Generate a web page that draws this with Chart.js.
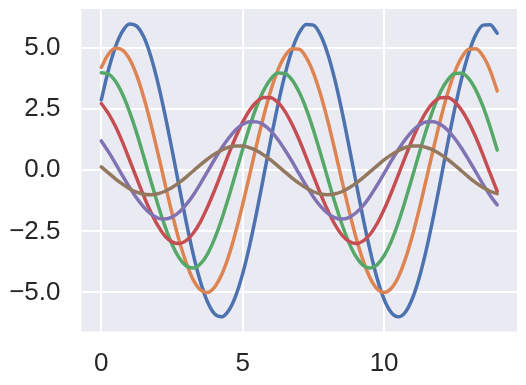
<!DOCTYPE html>
<html>
<head>
<meta charset="utf-8">
<script src="https://cdn.jsdelivr.net/npm/chart.js@4/dist/chart.umd.min.js"></script>
<style>
  body { margin: 0; background: #fff; }
  #wrap { width: 526px; height: 385px; }
</style>
</head>
<body>
<div id="wrap"><canvas id="chart" width="526" height="385"></canvas></div>
<script>
// x positions, 0 to 14 in steps of 0.25
const xs = [0, 0.25, 0.5, 0.75, 1, 1.25, 1.5, 1.75, 2, 2.25, 2.5, 2.75, 3, 3.25, 3.5, 3.75, 4, 4.25, 4.5, 4.75,
  5, 5.25, 5.5, 5.75, 6, 6.25, 6.5, 6.75, 7, 7.25, 7.5, 7.75, 8, 8.25, 8.5, 8.75, 9, 9.25, 9.5, 9.75,
  10, 10.25, 10.5, 10.75, 11, 11.25, 11.5, 11.75, 12, 12.25, 12.5, 12.75, 13, 13.25, 13.5, 13.75, 14];

const blue = [2.88, 4.09, 5.05, 5.69, 5.99, 5.90, 5.46, 4.67, 3.59, 2.29, 0.85, -0.65, -2.10, -3.43, -4.54, -5.37, -5.87, -6.00, -5.75, -5.15,
  -4.23, -3.05, -1.68, -0.20, 1.29, 2.70, 3.94, 4.94, 5.63, 5.97, 5.94, 5.54, 4.79, 3.75, 2.47, 1.04, -0.45, -1.92, -3.26, -4.41,
  -5.28, -5.82, -6.00, -5.81, -5.25, -4.37, -3.22, -1.87, -0.40, 1.10, 2.52, 3.79, 4.82, 5.56, 5.94, 5.96, 5.61];
const orange = [4.21, 4.75, 4.99, 4.92, 4.55, 3.89, 2.99, 1.91, 0.71, -0.54, -1.75, -2.86, -3.78, -4.48, -4.89, -5.00, -4.79, -4.29, -3.53, -2.54,
  -1.40, -0.17, 1.08, 2.25, 3.29, 4.12, 4.69, 4.97, 4.95, 4.61, 3.99, 3.12, 2.06, 0.87, -0.38, -1.60, -2.72, -3.67, -4.40, -4.85,
  -5.00, -4.84, -4.38, -3.64, -2.68, -1.56, -0.33, 0.91, 2.10, 3.16, 4.02, 4.63, 4.95, 4.97, 4.67, 4.09, 3.25];
const green = [3.99, 3.94, 3.64, 3.11, 2.39, 1.53, 0.56, -0.43, -1.40, -2.29, -3.03, -3.58, -3.91, -4.00, -3.84, -3.44, -2.82, -2.03, -1.12, -0.13,
  0.86, 1.80, 2.63, 3.29, 3.75, 3.98, 3.96, 3.69, 3.19, 2.50, 1.65, 0.70, -0.30, -1.28, -2.18, -2.94, -3.52, -3.88, -4.00, -3.87,
  -3.50, -2.92, -2.15, -1.24, -0.27, 0.73, 1.68, 2.53, 3.22, 3.70, 3.96, 3.97, 3.74, 3.27, 2.60, 1.77, 0.83];
const red = [2.73, 2.33, 1.80, 1.15, 0.42, -0.32, -1.05, -1.71, -2.27, -2.69, -2.93, -3.00, -2.88, -2.58, -2.12, -1.52, -0.84, -0.10, 0.65, 1.35,
  1.97, 2.47, 2.81, 2.98, 2.97, 2.77, 2.40, 1.87, 1.24, 0.52, -0.23, -0.96, -1.63, -2.20, -2.64, -2.91, -3.00, -2.90, -2.63, -2.19,
  -1.61, -0.93, -0.20, 0.55, 1.26, 1.89, 2.41, 2.78, 2.97, 2.98, 2.80, 2.45, 1.95, 1.33, 0.62, -0.13, -0.86];
const purple = [1.20, 0.76, 0.28, -0.22, -0.70, -1.14, -1.51, -1.79, -1.96, -2.00, -1.92, -1.72, -1.41, -1.02, -0.56, -0.07, 0.43, 0.90, 1.31, 1.65,
  1.88, 1.99, 1.98, 1.85, 1.60, 1.25, 0.82, 0.35, -0.15, -0.64, -1.09, -1.47, -1.76, -1.94, -2.00, -1.94, -1.75, -1.46, -1.07, -0.62,
  -0.13, 0.37, 0.84, 1.26, 1.61, 1.85, 1.98, 1.99, 1.87, 1.64, 1.30, 0.88, 0.41, -0.08, -0.58, -1.03, -1.42];
const brown = [0.14, -0.11, -0.35, -0.57, -0.76, -0.90, -0.98, -1.00, -0.96, -0.86, -0.71, -0.51, -0.28, -0.03, 0.22, 0.45, 0.66, 0.82, 0.94, 0.99,
  0.99, 0.92, 0.80, 0.62, 0.41, 0.17, -0.08, -0.32, -0.54, -0.73, -0.88, -0.97, -1.00, -0.97, -0.88, -0.73, -0.54, -0.31, -0.07, 0.18,
  0.42, 0.63, 0.80, 0.93, 0.99, 0.99, 0.93, 0.82, 0.65, 0.44, 0.21, -0.04, -0.29, -0.52, -0.71, -0.86, -0.96];

const xTicks = [0, 5, 10];
const yTicks = [-5, -2.5, 0, 2.5, 5];

const series = [blue, orange, green, red, purple, brown];
const colors = ['#4C72B0', '#DD8452', '#55A868', '#C44E52', '#8172B3', '#937860'];

// shaded plot background like seaborn darkgrid
const plotBg = {
  id: 'plotBg',
  beforeDraw(chart) {
    const { ctx, chartArea: a } = chart;
    ctx.save();
    ctx.fillStyle = '#EAEAF2';
    ctx.fillRect(a.left, a.top, a.right - a.left, a.bottom - a.top);
    ctx.restore();
  }
};

const fmt = v => Number(v).toFixed(1).replace('-', '\u2212');

new Chart(document.getElementById('chart'), {
  type: 'line',
  data: {
    datasets: series.map((s, k) => ({
      data: s.map((y, j) => ({ x: xs[j], y: y })),
      borderColor: colors[k],
      borderWidth: 3.5,
      borderCapStyle: 'round',
      borderJoinStyle: 'round',
      pointRadius: 0,
      cubicInterpolationMode: 'monotone',
      fill: false,
      order: 6 - k
    }))
  },
  options: {
    responsive: false,
    animation: false,
    layout: { padding: { top: 9, right: 9, left: 0, bottom: 0 } },
    plugins: { legend: { display: false }, tooltip: { enabled: false } },
    scales: {
      x: {
        type: 'linear',
        min: -0.7,
        max: 14.7,
        afterBuildTicks: s => { s.ticks = xTicks.map(v => ({ value: v })); },
        afterFit: s => { s.height = 53.5; s.paddingLeft = 0; s.paddingRight = 0; },
        grid: { color: '#ffffff', lineWidth: 2, drawTicks: false },
        border: { display: false },
        ticks: {
          color: '#262626',
          font: { family: 'Liberation Sans', size: 26 },
          padding: 17,
          maxRotation: 0,
          autoSkip: false,
          callback: v => String(v)
        }
      },
      y: {
        min: -6.6,
        max: 6.6,
        afterBuildTicks: s => { s.ticks = yTicks.map(v => ({ value: v })); },
        afterFit: s => { s.width = 81.5; s.paddingTop = 0; s.paddingBottom = 0; },
        grid: { color: '#ffffff', lineWidth: 2, drawTicks: false },
        border: { display: false },
        ticks: {
          color: '#262626',
          font: { family: 'Liberation Sans', size: 26 },
          padding: 21,
          autoSkip: false,
          callback: v => fmt(v)
        }
      }
    }
  },
  plugins: [plotBg]
});
</script>
</body>
</html>
